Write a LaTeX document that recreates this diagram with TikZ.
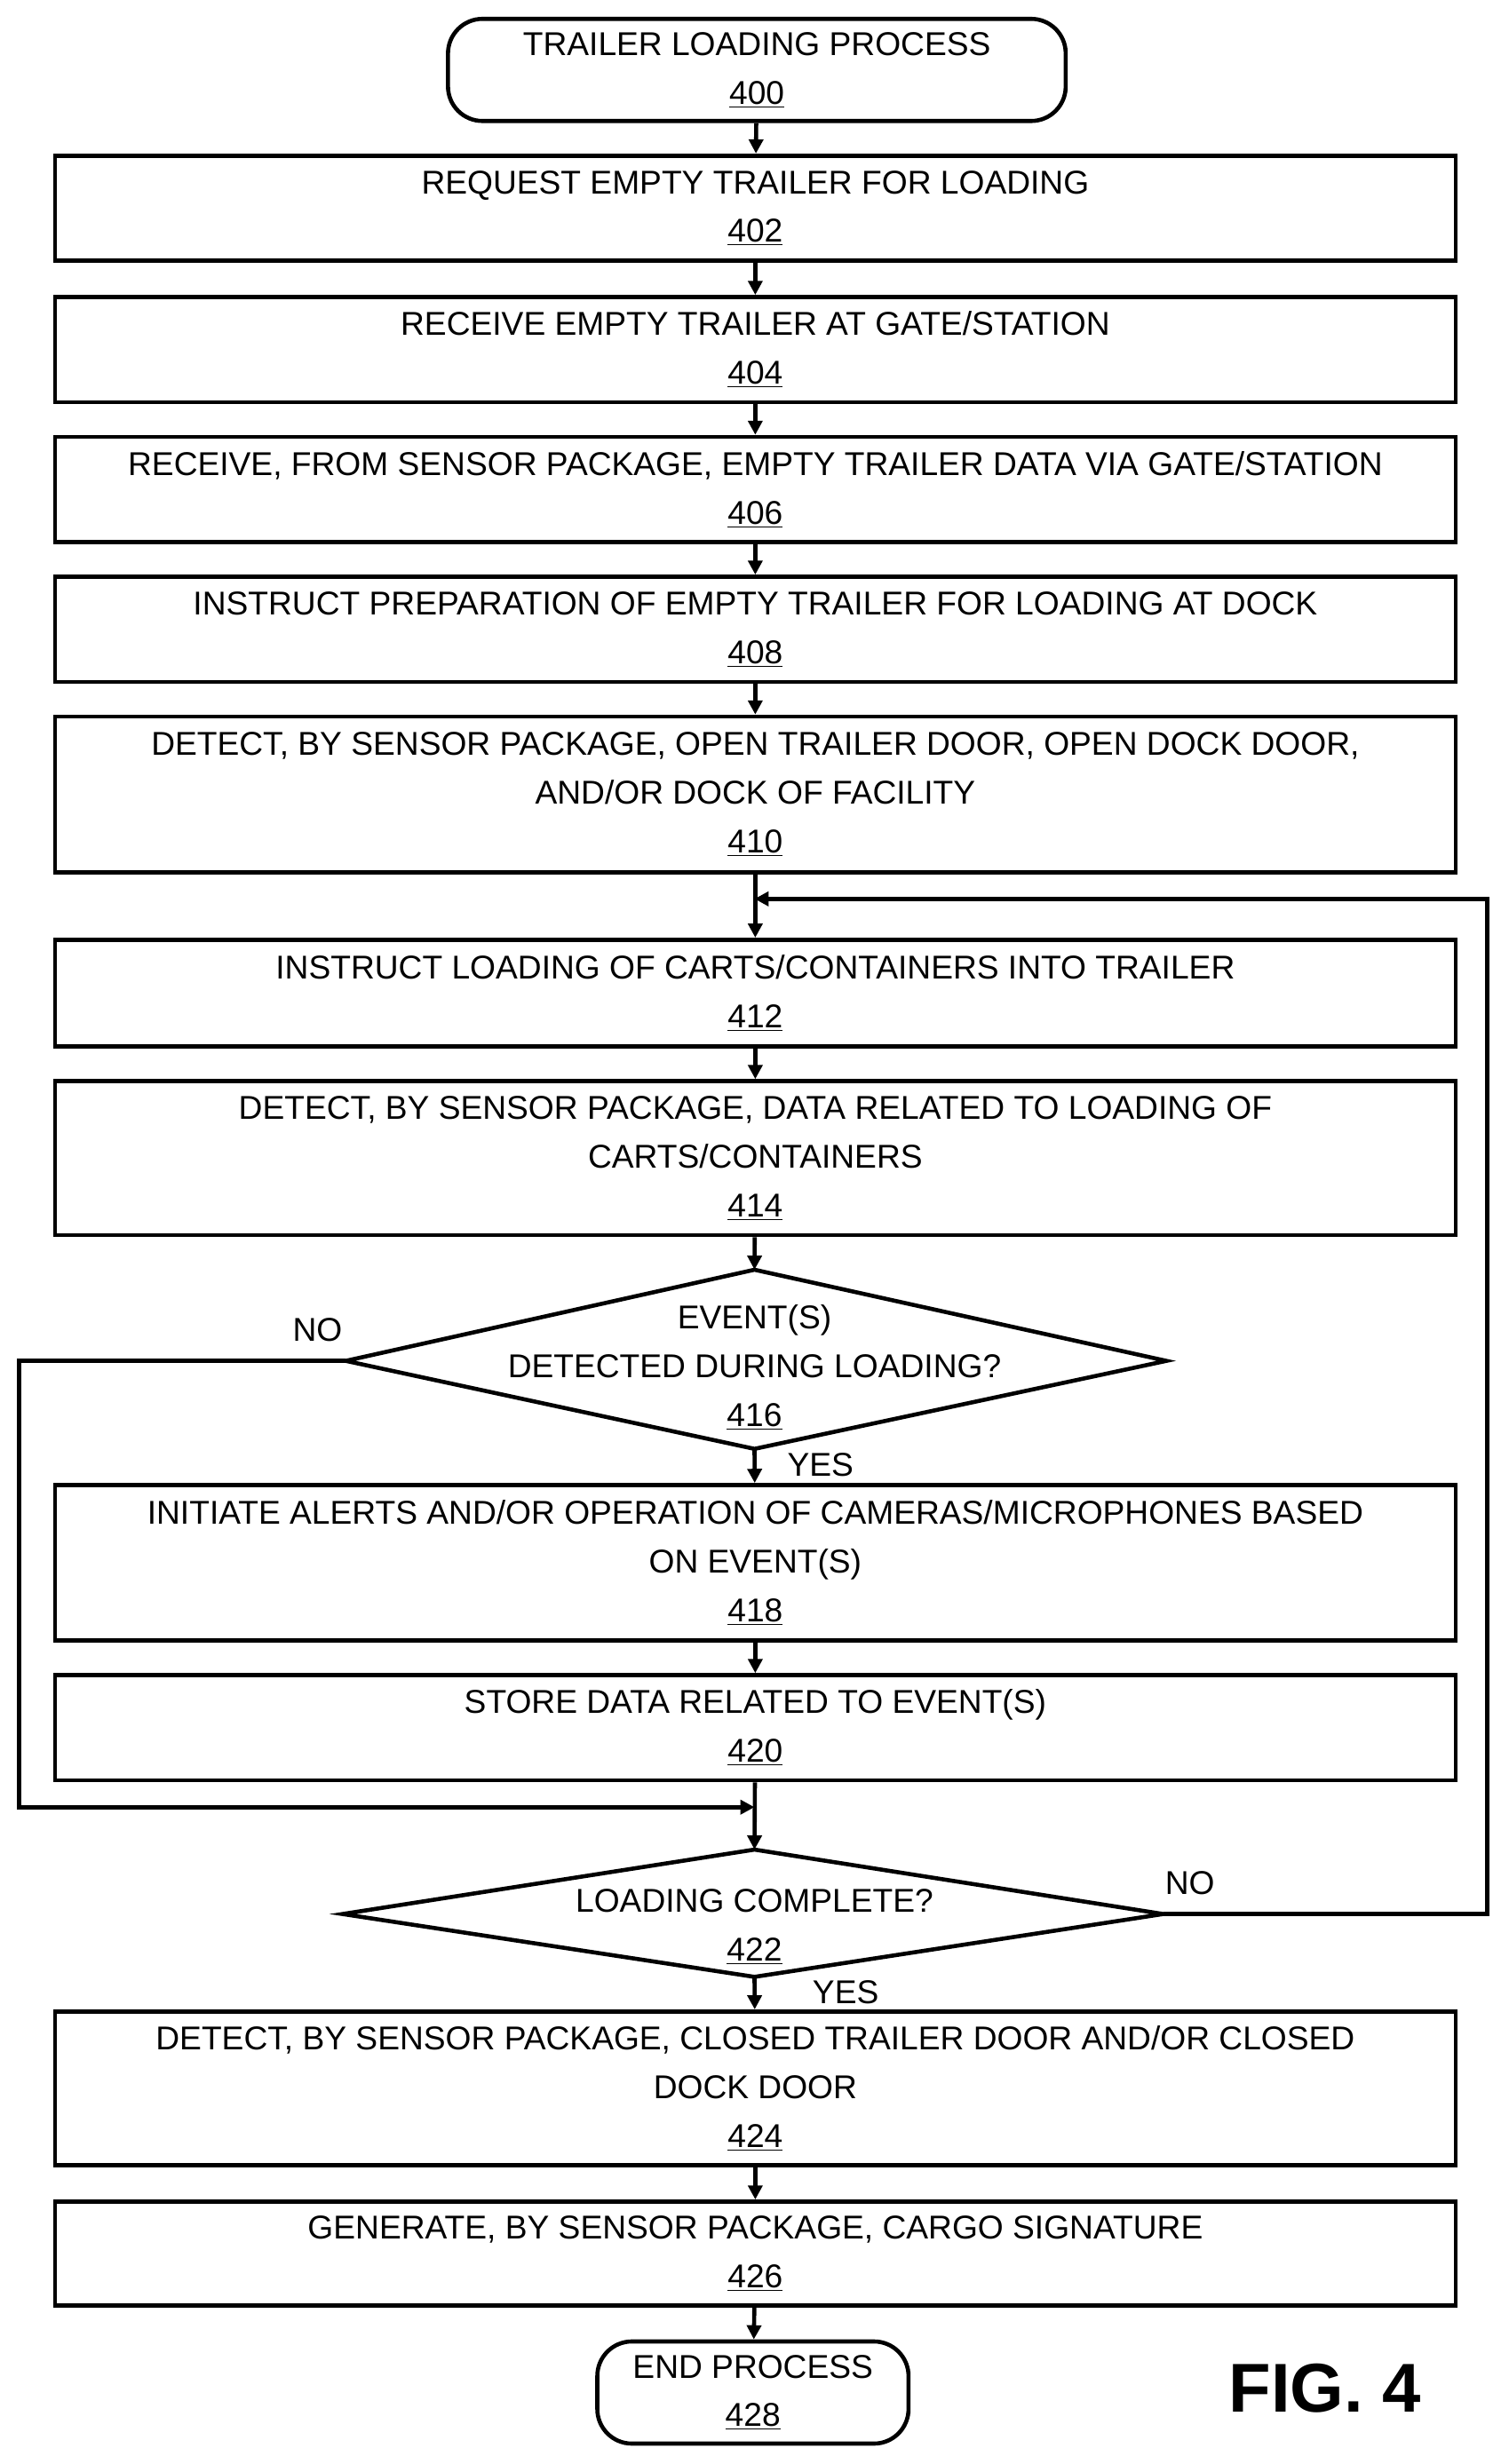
\documentclass[tikz,border=0pt]{standalone}
\usepackage{fontspec}
\setmainfont{Liberation Sans}
\usetikzlibrary{arrows.meta,shapes.geometric}
\begin{document}
\begin{tikzpicture}[x=1pt,y=-1pt,
  every node/.style={font=\fontsize{21}{31}\selectfont,align=center,inner sep=0pt},
  box/.style={draw,line width=2.6pt,minimum width=891pt},
  ln/.style={line width=2.6pt},
  arr/.style={ln,-{Triangle[length=9pt,width=9pt]}},
  lbl/.style={font=\fontsize{21}{25}\selectfont}]
\useasboundingbox (0,0) rectangle (960,1568);
\node[draw,line width=2.6pt,rounded corners=22pt,minimum width=393pt,minimum height=65pt] (s) at (481.5,44.5) {TRAILER LOADING PROCESS\\\underline{400}};
\node[box,minimum height=67pt] (b402) at (480.5,132.5) {REQUEST EMPTY TRAILER FOR LOADING\\\underline{402}};
\node[box,minimum height=67pt] (b404) at (480.5,222.5) {RECEIVE EMPTY TRAILER AT GATE/STATION\\\underline{404}};
\node[box,minimum height=67pt] (b406) at (480.5,311.5) {RECEIVE, FROM SENSOR PACKAGE, EMPTY TRAILER DATA VIA GATE/STATION\\\underline{406}};
\node[box,minimum height=67pt] (b408) at (480.5,400.5) {INSTRUCT PREPARATION OF EMPTY TRAILER FOR LOADING AT DOCK\\\underline{408}};
\node[box,minimum height=99pt] (b410) at (480.5,505.5) {DETECT, BY SENSOR PACKAGE, OPEN TRAILER DOOR, OPEN DOCK DOOR,\\AND/OR DOCK OF FACILITY\\\underline{410}};
\node[box,minimum height=68pt] (b412) at (480.5,632) {INSTRUCT LOADING OF CARTS/CONTAINERS INTO TRAILER\\\underline{412}};
\node[box,minimum height=98pt] (b414) at (480.5,737) {DETECT, BY SENSOR PACKAGE, DATA RELATED TO LOADING OF\\CARTS/CONTAINERS\\\underline{414}};
\coordinate (d1t) at (480,808); \coordinate (d1b) at (480,922);
\coordinate (d1l) at (220,866); \coordinate (d1r) at (742,866);
\draw[ln,line join=miter] (d1t) -- (d1r) -- (d1b) -- (d1l) -- cycle;
\node (d416) at (480,870) {EVENT(S)\\DETECTED DURING LOADING?\\\underline{416}};
\node[box,minimum height=99pt] (b418) at (480.5,994.5) {INITIATE ALERTS AND/OR OPERATION OF CAMERAS/MICROPHONES BASED\\ON EVENT(S)\\\underline{418}};
\node[box,minimum height=67pt] (b420) at (480.5,1099.5) {STORE DATA RELATED TO EVENT(S)\\\underline{420}};
\coordinate (d2t) at (480,1177); \coordinate (d2b) at (480,1258);
\coordinate (d2l) at (218,1218); \coordinate (d2r) at (740,1218);
\draw[ln,line join=miter] (d2t) -- (d2r) -- (d2b) -- (d2l) -- cycle;
\node (d422) at (480,1226) {LOADING COMPLETE?\\\underline{422}};
\node[box,minimum height=98pt] (b424) at (480.5,1329) {DETECT, BY SENSOR PACKAGE, CLOSED TRAILER DOOR AND/OR CLOSED\\DOCK DOOR\\\underline{424}};
\node[box,minimum height=66pt] (b426) at (480.5,1434) {GENERATE, BY SENSOR PACKAGE, CARGO SIGNATURE\\\underline{426}};
\node[draw,line width=2.6pt,rounded corners=22pt,minimum width=198pt,minimum height=65pt] (e) at (479,1522.5) {END PROCESS\\\underline{428}};
\node[font=\fontsize{44}{50}\selectfont\bfseries] (fig) at (843,1520) {FIG. 4};
\draw[arr] (s) -- (b402);
\draw[arr] (b402) -- (b404);
\draw[arr] (b404) -- (b406);
\draw[arr] (b406) -- (b408);
\draw[arr] (b408) -- (b410);
\draw[arr] (b410) -- (b412);
\draw[arr] (b412) -- (b414);
\draw[arr] (b414) -- (d1t);
\draw[arr] (d1b) -- (b418);
\draw[arr] (b418) -- (b420);
\draw[arr] (b420) -- (d2t);
\draw[arr] (d2b) -- (b424);
\draw[arr] (b424) -- (b426);
\draw[arr] (b426) -- (e);
\coordinate (m1) at (480,1150);
\coordinate (m2) at (480,572);
\draw[arr] (d1l) -- (12,866) -- (12,1150) -- (m1);
\draw[arr] (d2r) -- (946,1218) -- (946,572) -- (m2);
\node[lbl] (no1) at (202,846) {NO};
\node[lbl] (no2) at (757,1198) {NO};
\node[lbl] (y1) at (522,932) {YES};
\node[lbl] (y2) at (538,1268) {YES};
\end{tikzpicture}
\end{document}
